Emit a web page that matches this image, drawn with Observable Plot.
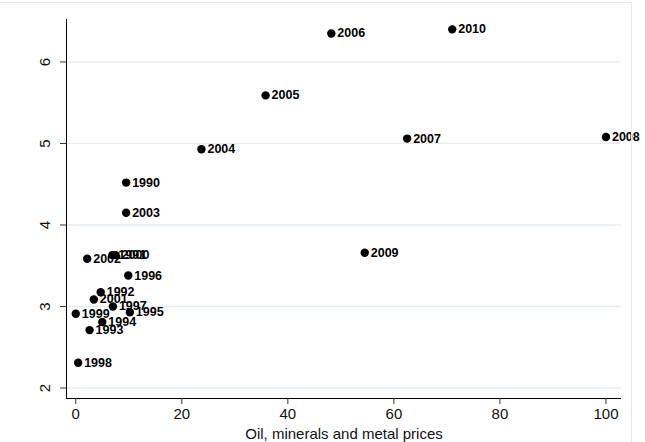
<!DOCTYPE html>
<html>
<head>
<meta charset="utf-8">
<script src="https://cdn.jsdelivr.net/npm/d3@7"></script>
<script src="https://cdn.jsdelivr.net/npm/@observablehq/plot@0.6"></script>
<style>
  html, body { margin: 0; padding: 0; background: #fff; }
  #wrap { position: relative; width: 645px; height: 442px; }
  #border { position: absolute; left: 0; top: 2px; width: 631px; height: 440px;
            border-top: 1px solid #e3ebef; border-right: 1px solid #e3ebef; pointer-events: none; }
</style>
</head>
<body>
<div id="wrap"><div id="border"></div></div>
<script>
const years  = [1990, 1991, 1992, 1993, 1994, 1995, 1996, 1997, 1998, 1999, 2000,
                2001, 2002, 2003, 2004, 2005, 2006, 2007, 2008, 2009, 2010];
const prices = [9.5, 6.9, 4.7, 2.6, 5.0, 10.2, 9.9, 7.0, 0.45, 0.0, 7.5,
                3.4, 2.15, 9.5, 23.7, 35.8, 48.2, 62.5, 100, 54.5, 71.0];
const values = [4.52, 3.63, 3.175, 2.71, 2.81, 2.93, 3.38, 3.00, 2.31, 2.91, 3.63,
                3.086, 3.585, 4.15, 4.93, 5.59, 6.35, 5.06, 5.08, 3.66, 6.40];
const xTicks = [0, 20, 40, 60, 80, 100];
const yTicks = [2, 3, 4, 5, 6];

const data = years.map((yr, i) => ({year: String(yr), x: prices[i], y: values[i]}));
const xDom = [-1.75, 102.93];
const yDom = [1.871, 6.521];

const chart = Plot.plot({
  width: 645,
  height: 442,
  marginLeft: 66,
  marginRight: 24,
  marginTop: 19,
  marginBottom: 44,
  style: {fontFamily: "'Liberation Sans', Arial, sans-serif", background: "transparent", color: "#111"},
  x: {domain: xDom},
  y: {domain: yDom},
  marks: [
    Plot.ruleY(yTicks, {stroke: "#e4ecf0", strokeWidth: 1.3}),
    Plot.ruleX([xDom[0]], {stroke: "#000", strokeWidth: 1}),
    Plot.ruleY([yDom[0]], {stroke: "#000", strokeWidth: 1}),
    Plot.axisY(yTicks, {tickSize: 6, tickRotate: -90, tickPadding: 11, fontSize: 15, label: null,
      stroke: "#333", tickFormat: d => String(d)}),
    Plot.axisX(xTicks, {tickSize: 6, tickPadding: 4, fontSize: 15, stroke: "#333", tickFormat: d => String(d),
      label: "Oil, minerals and metal prices", labelAnchor: "center", labelArrow: "none", labelOffset: 40}),
    Plot.dot(data, {x: "x", y: "y", r: 4.2, fill: "#000"}),
    Plot.text(data, {x: "x", y: "y", text: "year", dx: 6, textAnchor: "start",
      fontWeight: "bold", fontSize: 12.5, fill: "#000"})
  ]
});
document.getElementById("wrap").prepend(chart);
</script>
</body>
</html>
